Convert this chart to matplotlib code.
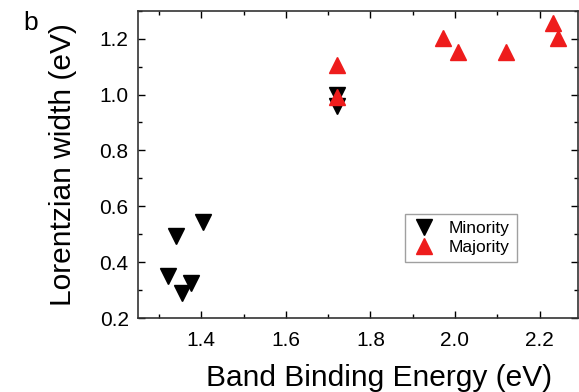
"""
Lorentzian width vs band binding energy (panel b), minority and majority bands.
Saves out.png
"""

import matplotlib
matplotlib.use('Agg')
import matplotlib.pyplot as plt
from matplotlib.ticker import MultipleLocator

plt.rcParams['font.family'] = ['Liberation Sans', 'DejaVu Sans']

# Minority band (down triangles)
MINORITY_E = [1.34, 1.405, 1.32, 1.375, 1.355, 1.72, 1.72]
MINORITY_W = [0.495, 0.545, 0.35, 0.325, 0.29, 1.0, 0.96]

# Majority band (up triangles)
MAJORITY_E = [1.72, 1.72, 1.972, 2.008, 2.121, 2.232, 2.244]
MAJORITY_W = [1.105, 0.99, 1.203, 1.153, 1.153, 1.254, 1.202]


def plot_widths():
    fig = plt.figure(figsize=(5.79, 3.92), dpi=100)
    ax = fig.add_axes([0.239, 0.188, 0.76, 0.785])

    ax.plot(MINORITY_E, MINORITY_W, 'v', color='black', markersize=11,
            linestyle='none', label='Minority')
    ax.plot(MAJORITY_E, MAJORITY_W, '^', color='#ee1c1c', markersize=11,
            linestyle='none', label='Majority')

    ax.set_xlim(1.251, 2.292)
    ax.set_ylim(0.2, 1.3)
    ax.xaxis.set_major_locator(MultipleLocator(0.2))
    ax.xaxis.set_minor_locator(MultipleLocator(0.1))
    ax.yaxis.set_major_locator(MultipleLocator(0.2))
    ax.yaxis.set_minor_locator(MultipleLocator(0.1))
    ax.tick_params(which='both', direction='in', top=True, right=True,
                   labelsize=15, width=1.0)
    ax.tick_params(which='major', length=5)
    ax.tick_params(which='minor', length=3)
    ax.tick_params(axis='x', pad=9)
    ax.tick_params(axis='y', pad=7)
    for s in ax.spines.values():
        s.set_linewidth(1.2)
        s.set_color('#333333')

    ax.set_xlabel('Band Binding Energy (eV)', fontsize=21.5, labelpad=10)
    ax.xaxis.label.set_x(0.548)
    ax.set_ylabel('Lorentzian width (eV)', fontsize=21.5, labelpad=16)

    leg = ax.legend(loc='lower left', bbox_to_anchor=(0.607, 0.182),
                    borderaxespad=0, fontsize=12.5, frameon=True,
                    fancybox=False, handletextpad=0.8, borderpad=0.4,
                    labelspacing=0.25, handlelength=1.3, markerscale=1.1)
    leg.get_frame().set_edgecolor('#888888')
    leg.get_frame().set_linewidth(1.0)

    fig.text(0.04, 0.923, 'b', fontsize=19)

    fig.savefig('out.png', dpi=100)
    plt.close(fig)


if __name__ == '__main__':
    plot_widths()
